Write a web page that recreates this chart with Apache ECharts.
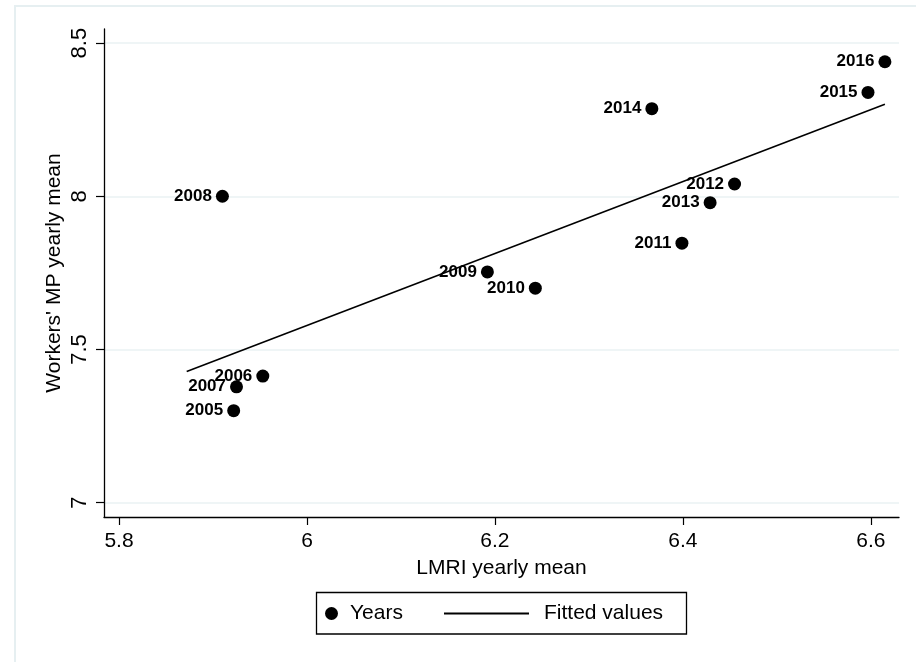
<!DOCTYPE html>
<html>
<head>
<meta charset="utf-8">
<title>LMRI vs Workers' MP</title>
<script src="https://cdn.jsdelivr.net/npm/echarts@6/dist/echarts.min.js"></script>
<style>
  html, body { margin: 0; padding: 0; background: #fff; }
  #chart { width: 916px; height: 662px; }
</style>
</head>
<body>
<div id="chart"></div>
<script>
// yearly means
var years = ['2005', '2006', '2007', '2008', '2009', '2010', '2011', '2012', '2013', '2014', '2015', '2016']
var lmri = [5.922, 5.953, 5.925, 5.910, 6.192, 6.243, 6.399, 6.455, 6.429, 6.367, 6.597, 6.615]
var workersMP = [7.300, 7.413, 7.378, 8.000, 7.753, 7.700, 7.847, 8.040, 7.979, 8.286, 8.339, 8.439]

// fitted line end points
var fitX = [5.872, 6.615]
var fitY = [7.428, 8.300]

var xTicks = [5.8, 6, 6.2, 6.4, 6.6]
var yTicks = [7, 7.5, 8, 8.5]

var font = "'Liberation Sans', Arial, Helvetica, sans-serif"

var points = years.map(function(y, i) {
  return { name: y, value: [lmri[i], workersMP[i]] }
})
var fitLine = fitX.map(function(x, i) {
  return [x, fitY[i]]
})

var chart = echarts.init(document.getElementById('chart'), null, { renderer: 'canvas' })

chart.setOption({
  animation: false,
  backgroundColor: '#fff',
  textStyle: { fontFamily: font },
  grid: {
    left: 104,
    right: 17,
    top: 29,
    bottom: 145
  },
  xAxis: {
    type: 'value',
    min: 5.784,
    max: 6.63,
    name: 'LMRI yearly mean',
    nameLocation: 'middle',
    nameGap: 41,
    nameMoveOverlap: false,
    nameTextStyle: { fontSize: 21, color: '#000', fontFamily: font },
    axisLine: { show: true, lineStyle: { color: '#000', width: 1.3 } },
    axisTick: { show: true, length: 8, customValues: xTicks, lineStyle: { color: '#000', width: 1.2 } },
    axisLabel: {
      customValues: xTicks,
      fontSize: 21,
      color: '#000',
      margin: 14,
      fontFamily: font
    },
    splitLine: { show: false }
  },
  yAxis: {
    type: 'value',
    min: 6.953,
    max: 8.546,
    name: "Workers' MP yearly mean",
    nameLocation: 'middle',
    nameGap: 39,
    nameMoveOverlap: false,
    nameTextStyle: { fontSize: 21, color: '#000', fontFamily: font },
    axisLine: { show: true, lineStyle: { color: '#000', width: 1.3 } },
    axisTick: { show: true, length: 8, customValues: yTicks, lineStyle: { color: '#000', width: 1.2 } },
    axisLabel: {
      customValues: yTicks,
      rotate: 90,
      fontSize: 22,
      color: '#000',
      margin: 13,
      fontFamily: font
    },
    splitLine: { show: true, lineStyle: { color: '#eaf2f3', width: 1.5 } }
  },
  legend: [
    {
      left: 325,
      top: 603,
      padding: 0,
      itemWidth: 13,
      itemHeight: 13,
      data: [{ name: 'Years', icon: 'circle' }],
      textStyle: { fontSize: 21, color: '#000', fontFamily: font, padding: [0, 0, 0, 7] }
    },
    {
      left: 444,
      top: 603,
      padding: 0,
      itemWidth: 85,
      itemHeight: 2,
      data: [{ name: 'Fitted values', icon: 'rect' }],
      textStyle: { fontSize: 21, color: '#000', fontFamily: font, padding: [0, 0, 0, 10] }
    }
  ],
  graphic: [
    {
      type: 'rect',
      silent: true,
      shape: { x: 15, y: 6, width: 2000, height: 2000 },
      style: { fill: null, stroke: '#e6eff1', lineWidth: 2 }
    },
    {
      type: 'rect',
      silent: true,
      shape: { x: 316.5, y: 592.5, width: 370, height: 41.5 },
      style: { fill: null, stroke: '#000', lineWidth: 1.3 }
    }
  ],
  series: [
    {
      name: 'Years',
      type: 'scatter',
      symbol: 'circle',
      symbolSize: 13,
      itemStyle: { color: '#000', opacity: 1 },
      label: {
        show: true,
        position: 'left',
        distance: 4,
        formatter: '{b}',
        fontSize: 17,
        fontWeight: 'bold',
        color: '#000',
        fontFamily: font
      },
      data: points,
      z: 3
    },
    {
      name: 'Fitted values',
      type: 'line',
      symbol: 'none',
      lineStyle: { color: '#000', width: 1.6 },
      itemStyle: { color: '#000' },
      data: fitLine,
      z: 2
    }
  ]
})
</script>
</body>
</html>
